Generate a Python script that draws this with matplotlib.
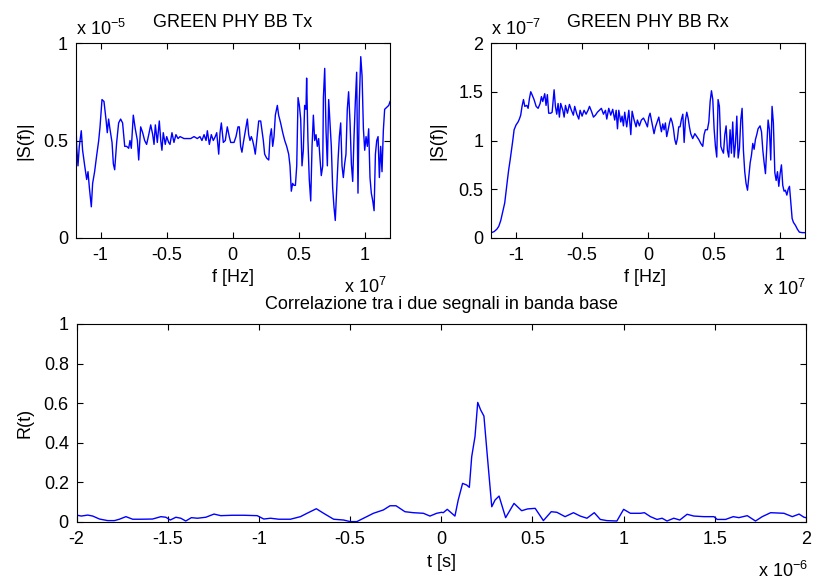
import matplotlib
matplotlib.use("Agg")
import matplotlib.pyplot as plt
from matplotlib.ticker import FuncFormatter, MultipleLocator

plt.rcParams['font.family'] = ['Liberation Sans', 'DejaVu Sans']
plt.rcParams['mathtext.fontset'] = 'custom'
plt.rcParams['mathtext.rm'] = 'Liberation Sans'
plt.rcParams['mathtext.it'] = 'Liberation Sans:italic'
plt.rcParams['mathtext.default'] = 'regular'

FS = 13

# ---------------- data ----------------
# Tx spectrum: frequency in units of 1e7 Hz, magnitude in units of 1e-5
tx_freq = [-1.190, -1.182, -1.172, -1.162, -1.147, -1.137, -1.121, -1.106, -1.096, -1.086,
           -1.071, -1.061, -1.046, -1.031, -1.015, -1.005, -0.990, -0.975, -0.960, -0.950,
           -0.940, -0.930, -0.914, -0.904, -0.894, -0.879, -0.864, -0.849, -0.834, -0.818,
           -0.803, -0.788, -0.778, -0.768, -0.753, -0.738, -0.722, -0.712, -0.697, -0.682,
           -0.667, -0.652, -0.636, -0.621, -0.606, -0.596, -0.586, -0.571, -0.556, -0.545,
           -0.536, -0.526, -0.511, -0.500, -0.485, -0.475, -0.460, -0.445, -0.430, -0.414,
           -0.399, -0.369, -0.344, -0.318, -0.293, -0.268, -0.248, -0.233, -0.217, -0.202,
           -0.192, -0.177, -0.162, -0.147, -0.132, -0.121, -0.106, -0.096, -0.086, -0.071,
           -0.056, -0.041, -0.026, -0.015, 0.000,
           0.010, 0.025, 0.040, 0.050, 0.060, 0.070, 0.081, 0.091, 0.101, 0.111,
           0.121, 0.131, 0.141, 0.151, 0.161, 0.171, 0.182, 0.197, 0.212, 0.222,
           0.232, 0.242, 0.257, 0.273, 0.283, 0.293, 0.303, 0.313, 0.323, 0.338,
           0.348, 0.363, 0.379, 0.394, 0.409, 0.424, 0.434, 0.444, 0.454, 0.464,
           0.475, 0.485, 0.495, 0.505, 0.515, 0.525, 0.535, 0.545, 0.555, 0.560,
           0.570, 0.580, 0.591, 0.601, 0.611, 0.621, 0.631, 0.641, 0.651, 0.661,
           0.671, 0.682, 0.687, 0.697, 0.707, 0.717, 0.727, 0.737, 0.747, 0.757,
           0.767, 0.777, 0.788, 0.798, 0.808, 0.818, 0.828, 0.838, 0.848, 0.858,
           0.868, 0.878, 0.889, 0.899, 0.909, 0.919, 0.929, 0.939, 0.949, 0.959,
           0.970, 0.980, 0.990, 1.000, 1.010, 1.020, 1.030, 1.040, 1.050, 1.061,
           1.071, 1.081, 1.091, 1.101, 1.111, 1.121, 1.131, 1.141, 1.151, 1.167,
           1.182, 1.192]
tx_mag = [0.65, 0.47, 0.37, 0.47, 0.55, 0.45, 0.37, 0.30, 0.34, 0.26,
          0.16, 0.28, 0.34, 0.42, 0.50, 0.57, 0.71, 0.70, 0.61, 0.54,
          0.61, 0.56, 0.49, 0.38, 0.35, 0.49, 0.59, 0.61, 0.59, 0.47,
          0.47, 0.46, 0.50, 0.46, 0.63, 0.56, 0.50, 0.40, 0.57, 0.54,
          0.50, 0.48, 0.53, 0.58, 0.53, 0.48, 0.58, 0.49, 0.60, 0.50,
          0.45, 0.54, 0.48, 0.52, 0.49, 0.48, 0.54, 0.49, 0.53, 0.51,
          0.52, 0.51, 0.51, 0.51, 0.52, 0.51, 0.52, 0.50, 0.53, 0.50,
          0.55, 0.48, 0.53, 0.50, 0.52, 0.54, 0.43, 0.54, 0.59, 0.49,
          0.50, 0.57, 0.52, 0.49, 0.49,
          0.49, 0.52, 0.57, 0.57, 0.47, 0.44, 0.49, 0.53, 0.57, 0.61,
          0.53, 0.50, 0.52, 0.50, 0.47, 0.43, 0.50, 0.60, 0.60, 0.55,
          0.50, 0.43, 0.41, 0.40, 0.52, 0.56, 0.47, 0.52, 0.63, 0.68,
          0.63, 0.59, 0.54, 0.50, 0.47, 0.43, 0.37, 0.24, 0.28, 0.27,
          0.27, 0.37, 0.72, 0.68, 0.61, 0.37, 0.45, 0.68, 0.66, 0.82,
          0.50, 0.30, 0.19, 0.47, 0.63, 0.50, 0.53, 0.47, 0.51, 0.41,
          0.32, 0.37, 0.72, 0.87, 0.55, 0.37, 0.71, 0.59, 0.47, 0.26,
          0.16, 0.09, 0.25, 0.40, 0.52, 0.59, 0.37, 0.31, 0.38, 0.43,
          0.66, 0.75, 0.59, 0.38, 0.29, 0.52, 0.70, 0.85, 0.23, 0.70,
          0.93, 0.83, 0.56, 0.45, 0.52, 0.47, 0.56, 0.31, 0.23, 0.19,
          0.14, 0.43, 0.50, 0.52, 0.31, 0.47, 0.34, 0.55, 0.66, 0.67,
          0.68, 0.70]

# Rx spectrum: frequency in units of 1e7 Hz, magnitude in units of 1e-7
rx_freq = [-1.190, -1.187, -1.167, -1.146, -1.131, -1.116, -1.101, -1.086, -1.076, -1.066,
           -1.056, -1.045, -1.035, -1.025, -1.015, -1.000, -0.985, -0.975, -0.965, -0.955,
           -0.944, -0.934, -0.919, -0.909, -0.899, -0.889, -0.879, -0.864, -0.848, -0.833,
           -0.818, -0.808, -0.798, -0.783, -0.773, -0.763, -0.753, -0.737, -0.727, -0.712,
           -0.702, -0.692, -0.682, -0.672, -0.662, -0.646, -0.636, -0.626, -0.611, -0.596,
           -0.581, -0.566, -0.556, -0.540, -0.525, -0.515, -0.500, -0.485, -0.470, -0.455,
           -0.444, -0.429, -0.414, -0.399, -0.384, -0.369, -0.354, -0.338, -0.323, -0.313,
           -0.298, -0.283, -0.268, -0.253, -0.242, -0.232, -0.222, -0.207, -0.197, -0.187,
           -0.177, -0.162, -0.146, -0.131, -0.121, -0.106, -0.091, -0.081, -0.066, -0.051,
           -0.035, -0.020, -0.005,
           0.005, 0.015, 0.025, 0.035, 0.045, 0.056, 0.071, 0.081, 0.091, 0.101,
           0.111, 0.121, 0.131, 0.141, 0.152, 0.162, 0.172, 0.182, 0.192, 0.202,
           0.212, 0.222, 0.232, 0.242, 0.253, 0.263, 0.273, 0.283, 0.293, 0.303,
           0.313, 0.323, 0.338, 0.354, 0.369, 0.384, 0.399, 0.414, 0.424, 0.434,
           0.449, 0.460, 0.470, 0.480, 0.490, 0.500, 0.510, 0.520, 0.530, 0.540,
           0.551, 0.561, 0.571, 0.581, 0.591, 0.601, 0.611, 0.621, 0.631, 0.641,
           0.652, 0.662, 0.672, 0.682, 0.692, 0.702, 0.712, 0.722, 0.732, 0.742,
           0.753, 0.763, 0.773, 0.783, 0.793, 0.803, 0.813, 0.823, 0.833, 0.848,
           0.859, 0.869, 0.879, 0.889, 0.899, 0.909, 0.919, 0.929, 0.939, 0.949,
           0.960, 0.970, 0.980, 0.990, 1.000, 1.010, 1.020, 1.030, 1.040, 1.051,
           1.061, 1.071, 1.081, 1.091, 1.101, 1.116, 1.131, 1.146, 1.167, 1.190]
rx_mag = [0.05, 0.055, 0.065, 0.09, 0.12, 0.18, 0.27, 0.36, 0.48, 0.59,
          0.70, 0.80, 0.90, 1.00, 1.11, 1.16, 1.19, 1.22, 1.26, 1.35,
          1.42, 1.35, 1.36, 1.33, 1.43, 1.50, 1.47, 1.42, 1.35, 1.33,
          1.38, 1.45, 1.40, 1.48, 1.36, 1.47, 1.28, 1.28, 1.29, 1.52,
          1.35, 1.27, 1.38, 1.24, 1.38, 1.31, 1.24, 1.36, 1.28, 1.37,
          1.31, 1.26, 1.35, 1.27, 1.22, 1.31, 1.25, 1.31, 1.27, 1.31,
          1.35, 1.30, 1.24, 1.26, 1.29, 1.31, 1.33, 1.27, 1.31, 1.22,
          1.33, 1.26, 1.32, 1.21, 1.31, 1.12, 1.31, 1.19, 1.25, 1.15,
          1.29, 1.14, 1.31, 1.06, 1.30, 1.21, 1.14, 1.21, 1.15, 1.21,
          1.23, 1.19, 1.14,
          1.24, 1.28, 1.21, 1.14, 1.07, 1.14, 1.20, 1.24, 1.16, 1.09,
          1.17, 1.11, 1.18, 1.04, 1.11, 1.18, 1.23, 1.19, 1.12, 1.01,
          0.96, 1.02, 1.14, 1.14, 1.22, 1.27, 0.98, 1.21, 1.29, 1.23,
          1.14, 1.07, 1.02, 1.07, 1.04, 1.01, 0.97, 0.94, 1.06, 1.11,
          1.11, 1.19, 1.40, 1.51, 1.42, 1.12, 0.94, 0.83, 1.42, 1.35,
          0.94, 0.90, 0.87, 1.06, 1.15, 0.90, 0.83, 1.11, 0.87, 1.19,
          0.83, 0.97, 1.25, 0.82, 0.92, 1.21, 1.33, 0.90, 0.68, 0.56,
          0.49, 0.63, 0.77, 0.85, 0.97, 0.91, 1.01, 1.06, 1.12, 1.15,
          1.09, 0.90, 0.77, 0.66, 0.94, 1.21, 1.11, 0.80, 1.35, 1.18,
          0.67, 0.59, 0.68, 0.53, 0.66, 0.75, 0.54, 0.48, 0.49, 0.44,
          0.50, 0.53, 0.36, 0.20, 0.16, 0.13, 0.09, 0.06, 0.055, 0.055]

# Correlation: time in units of 1e-6 s
corr_t = [-2.000, -1.974, -1.938, -1.911, -1.874, -1.829, -1.792, -1.765, -1.729, -1.692,
          -1.647, -1.583, -1.537, -1.510, -1.486, -1.455, -1.428, -1.401, -1.370, -1.337,
          -1.291, -1.246, -1.209, -1.146, -1.082, -1.009, -0.973, -0.936, -0.891, -0.827,
          -0.772, -0.736, -0.685, -0.645, -0.590, -0.536, -0.499, -0.463, -0.426, -0.372,
          -0.317, -0.281, -0.248, -0.199, -0.153, -0.098, -0.062, -0.025, 0.002,
          0.011, 0.033, 0.075, 0.093, 0.117, 0.139, 0.154, 0.167, 0.185, 0.200,
          0.216, 0.234, 0.253, 0.277, 0.295, 0.317, 0.353, 0.399, 0.441, 0.473,
          0.515, 0.560, 0.603, 0.634, 0.679, 0.725, 0.762, 0.799, 0.839, 0.872,
          0.908, 0.963, 1.000, 1.037, 1.092, 1.114, 1.147, 1.183, 1.211, 1.238,
          1.275, 1.308, 1.348, 1.385, 1.440, 1.495, 1.513, 1.559, 1.601, 1.632,
          1.678, 1.723, 1.760, 1.806, 1.879, 1.925, 1.962, 1.989, 2.000]
corr_r = [0.035, 0.030, 0.035, 0.030, 0.015, 0.007, 0.007, 0.014, 0.027, 0.014,
          0.014, 0.015, 0.027, 0.024, 0.010, 0.024, 0.019, 0.005, 0.022, 0.019,
          0.024, 0.040, 0.032, 0.034, 0.034, 0.032, 0.015, 0.019, 0.014, 0.014,
          0.027, 0.044, 0.067, 0.044, 0.014, 0.010, 0.002, 0.002, 0.019, 0.044,
          0.061, 0.082, 0.082, 0.052, 0.047, 0.044, 0.030, 0.044, 0.049,
          0.047, 0.064, 0.030, 0.111, 0.195, 0.187, 0.175, 0.330, 0.431, 0.604,
          0.566, 0.535, 0.330, 0.077, 0.111, 0.131, 0.022, 0.094, 0.057, 0.066,
          0.069, 0.007, 0.052, 0.049, 0.027, 0.047, 0.030, 0.019, 0.047, 0.013,
          0.007, 0.005, 0.064, 0.044, 0.044, 0.047, 0.027, 0.013, 0.019, 0.005,
          0.019, 0.010, 0.039, 0.030, 0.027, 0.027, 0.013, 0.013, 0.027, 0.022,
          0.032, 0.005, 0.027, 0.047, 0.044, 0.027, 0.040, 0.024, 0.022]

F_SCALE = 1e7
TX_SCALE = 1e-5
RX_SCALE = 1e-7
T_SCALE = 1e-6

BLUE = (0, 0, 1)
LW = 1.0

fig = plt.figure(figsize=(8.14, 5.85), dpi=100)
W, H = 814.0, 585.0


def style(ax, xs, ys):
    ax.tick_params(direction='in', top=True, right=True, length=4, width=0.8,
                   labelsize=FS, colors='black')
    ax.tick_params(axis='y', pad=5.5)
    ax.tick_params(axis='x', pad=6.5)
    ax.xaxis.set_major_formatter(FuncFormatter(lambda v, p: f"{v / xs:g}"))
    ax.yaxis.set_major_formatter(FuncFormatter(lambda v, p: f"{v / ys:g}"))
    for s in ax.spines.values():
        s.set_linewidth(0.8)
        s.set_color('black')


# ---- Top-left: Tx
ax1 = fig.add_axes([75.6 / W, (H - 238) / H, 314.2 / W, 195 / H])
ax1.plot([f * F_SCALE for f in tx_freq], [m * TX_SCALE for m in tx_mag], color=BLUE, lw=LW)
ax1.set_xlim(-1.19e7, 1.19e7)
ax1.set_ylim(0, 1e-5)
ax1.xaxis.set_major_locator(MultipleLocator(0.5e7))
ax1.yaxis.set_major_locator(MultipleLocator(0.5e-5))
style(ax1, F_SCALE, TX_SCALE)
ax1.text(0.5, 1.103, 'GREEN PHY BB Tx', transform=ax1.transAxes, ha='center', va='center', fontsize=FS)
ax1.text(0.0, 1.04, 'x 10$^{-5}$', transform=ax1.transAxes, ha='left', va='baseline', fontsize=FS)
ax1.text(0.991, -0.282, 'x 10$^{7}$', transform=ax1.transAxes, ha='right', va='baseline', fontsize=FS)
ax1.set_xlabel('f [Hz]', fontsize=FS, va='center')
ax1.xaxis.set_label_coords(0.5, -0.2)
ax1.set_ylabel('|S(f)|', fontsize=FS, va='center')
ax1.yaxis.set_label_coords(-0.161, 0.5)

# ---- Top-right: Rx
ax2 = fig.add_axes([491 / W, (H - 238) / H, 314.2 / W, 195 / H])
ax2.plot([f * F_SCALE for f in rx_freq], [m * RX_SCALE for m in rx_mag], color=BLUE, lw=LW)
ax2.set_xlim(-1.19e7, 1.19e7)
ax2.set_ylim(0, 2e-7)
ax2.xaxis.set_major_locator(MultipleLocator(0.5e7))
ax2.yaxis.set_major_locator(MultipleLocator(0.5e-7))
style(ax2, F_SCALE, RX_SCALE)
ax2.text(0.5, 1.103, 'GREEN PHY BB Rx', transform=ax2.transAxes, ha='center', va='center', fontsize=FS)
ax2.text(0.0, 1.04, 'x 10$^{-7}$', transform=ax2.transAxes, ha='left', va='baseline', fontsize=FS)
ax2.text(1.0, -0.29, 'x 10$^{7}$', transform=ax2.transAxes, ha='right', va='baseline', fontsize=FS)
ax2.set_xlabel('f [Hz]', fontsize=FS, va='center')
ax2.xaxis.set_label_coords(0.49, -0.205)
ax2.set_ylabel('|S(f)|', fontsize=FS, va='center')
ax2.yaxis.set_label_coords(-0.169, 0.5)

# ---- Bottom: correlation
ax3 = fig.add_axes([76.5 / W, (H - 522) / H, 729.5 / W, 198 / H])
ax3.plot([t * T_SCALE for t in corr_t], corr_r, color=BLUE, lw=LW)
ax3.set_xlim(-2e-6, 2e-6)
ax3.set_ylim(0, 1)
ax3.xaxis.set_major_locator(MultipleLocator(0.5e-6))
ax3.yaxis.set_major_locator(MultipleLocator(0.2))
style(ax3, T_SCALE, 1.0)
ax3.text(0.5, 1.096, 'Correlazione tra i due segnali in banda base', transform=ax3.transAxes,
         ha='center', va='center', fontsize=FS)
ax3.text(1.003, -0.278, 'x 10$^{-6}$', transform=ax3.transAxes, ha='right', va='baseline', fontsize=FS)
ax3.set_xlabel('t [s]', fontsize=FS, va='center')
ax3.xaxis.set_label_coords(0.5, -0.207)
ax3.set_ylabel('R(t)', fontsize=FS, va='center')
ax3.yaxis.set_label_coords(-0.0706, 0.5)

fig.savefig('out.png', dpi=100, facecolor='white')
